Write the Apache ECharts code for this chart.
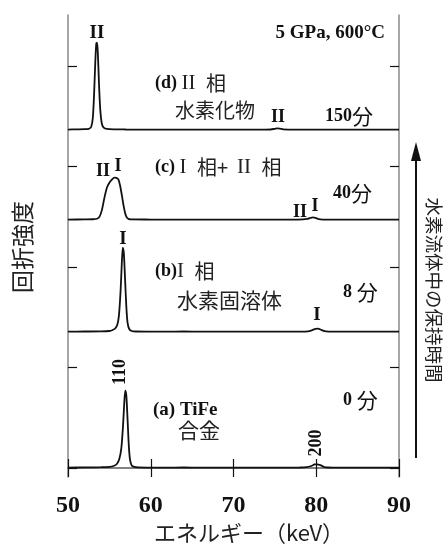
<!DOCTYPE html>
<html><head><meta charset="utf-8">
<script src="https://cdn.jsdelivr.net/npm/echarts@6/dist/echarts.min.js"></script>
<style>html,body{margin:0;padding:0;background:#fff}#c{width:448px;height:545px}</style>
</head><body><div id="c"></div>
<script>
// ---- data ----
const xTicks = [50, 60, 70, 80, 90];
const yTickValues = [0, 1, 2, 3, 4];
const panelNames = ['a', 'b', 'c', 'd'];
const panelOffsets = [0, 1.353, 2.468, 3.363];
// spectra: [energy keV, intensity above own baseline]
const spectrumA = [[50,0.004],[52,0.006],[54,0.008],[55,0.012],[55.5,0.02],[55.9,0.04],[56.2,0.09],[56.45,0.2],[56.65,0.42],[56.8,0.65],[56.92,0.77],[57.05,0.72],[57.2,0.48],[57.35,0.22],[57.5,0.08],[57.7,0.025],[58.0,0.01],[58.5,0.006],[60,0.004],[62,0.003],[64,0.005],[66,0.003],[68,0.004],[70,0.003],[72,0.003],[74,0.004],[76,0.003],[78,0.005],[78.8,0.008],[79.4,0.02],[79.8,0.035],[80.1,0.037],[80.5,0.028],[80.9,0.012],[81.4,0.005],[83,0.003],[86,0.003],[88,0.004],[90,0.003]];
const spectrumB = [[50,0.004],[52,0.005],[54,0.006],[55,0.01],[55.4,0.02],[55.7,0.035],[55.95,0.07],[56.15,0.16],[56.35,0.4],[56.5,0.68],[56.62,0.84],[56.75,0.78],[56.9,0.52],[57.05,0.25],[57.2,0.09],[57.4,0.03],[57.7,0.01],[58.2,0.005],[60,0.004],[62,0.003],[64,0.005],[66,0.004],[68,0.003],[70,0.004],[72,0.003],[74,0.004],[76,0.003],[78,0.004],[79,0.007],[79.5,0.018],[79.9,0.03],[80.2,0.033],[80.6,0.022],[81,0.008],[81.5,0.004],[84,0.003],[87,0.004],[90,0.003]];
const spectrumC = [[50,0.004],[52,0.005],[53,0.007],[53.5,0.012],[53.8,0.03],[54.1,0.1],[54.4,0.22],[54.7,0.32],[55.0,0.37],[55.3,0.4],[55.6,0.42],[55.85,0.418],[56.1,0.4],[56.3,0.34],[56.5,0.25],[56.7,0.15],[56.9,0.07],[57.1,0.025],[57.3,0.01],[57.6,0.005],[60,0.004],[63,0.003],[66,0.004],[70,0.003],[74,0.004],[77,0.003],[78.4,0.005],[78.9,0.01],[79.3,0.02],[79.6,0.025],[79.9,0.02],[80.3,0.008],[80.8,0.004],[84,0.003],[87,0.004],[90,0.003]];
const spectrumD = [[50,0.004],[51,0.006],[52,0.008],[52.5,0.012],[52.8,0.03],[53.0,0.12],[53.15,0.35],[53.3,0.68],[53.42,0.86],[53.52,0.87],[53.62,0.74],[53.75,0.45],[53.9,0.2],[54.1,0.06],[54.35,0.02],[54.7,0.01],[55.5,0.006],[57,0.005],[60,0.004],[63,0.004],[66,0.003],[70,0.004],[73,0.003],[74.5,0.005],[75,0.012],[75.3,0.016],[75.6,0.014],[76,0.006],[78,0.004],[82,0.003],[86,0.004],[90,0.003]];
const spectra = [spectrumA, spectrumB, spectrumC, spectrumD];

const SERIF = '"Liberation Serif", "DejaVu Serif", serif';
const CJK = '"Noto Sans CJK JP", "Noto Sans", sans-serif';

const chart = echarts.init(document.getElementById('c'), null, {renderer: 'canvas'});

const series = spectra.map((s, i) => ({
  name: panelNames[i],
  type: 'line',
  data: s.map(p => [p[0], p[1] + panelOffsets[i]]),
  showSymbol: false,
  smooth: 0.25,
  lineStyle: {color: '#111', width: 1.8},
  z: 3
}));

function t(text, x, y, opt) {
  return Object.assign({type: 'text', x: x, y: y, style: Object.assign({text: text, fill: '#111', verticalAlign: 'middle', align: 'center'}, opt && opt.style)}, opt && opt.el);
}
const bold = (size) => ({font: `bold ${size}px ${SERIF}`});
const cjk = (size) => ({font: `${size}px ${CJK}`});

const rich = {
  s: {fontFamily: SERIF, fontWeight: 'bold', fontSize: 18, fill: '#111'},
  r: {fontFamily: SERIF, fontSize: 21, fill: '#222'},
  j: {fontFamily: CJK, fontSize: 20, fill: '#222'},
  k: {fontFamily: CJK, fontSize: 21, fill: '#111'}
};
function rt(text, x, y) {
  return {type: 'text', x: x, y: y, style: {text: text, rich: rich, verticalAlign: 'middle', align: 'left'}};
}

const graphics = [
  t('5 GPa, 600°C', 385, 33, {style: Object.assign(bold(19), {align: 'right'})}),
  // panel d
  t('II', 97, 33, {style: bold(19)}),
  rt('{s|(d) }{r|II  }{j|相}', 155, 83),
  t('水素化物', 175, 110, {style: Object.assign(cjk(20), {align: 'left', fill: '#222'})}),
  t('II', 278, 117, {style: bold(18)}),
  rt('{s|150}{k|分}', 325, 116),
  // panel c
  t('II', 103, 171, {style: bold(18)}),
  t('I', 118, 166, {style: bold(18)}),
  rt('{s|(c) }{r|I  }{j|相+  }{r|II  }{j|相}', 155, 167),
  rt('{s|40}{k|分}', 333, 193),
  t('II', 300, 212, {style: bold(18)}),
  t('I', 315, 206, {style: bold(18)}),
  // panel b
  t('I', 123, 239, {style: bold(19)}),
  rt('{s|(b)}{r|I  }{j|相}', 155, 271),
  t('水素固溶体', 177, 300, {style: Object.assign(cjk(21), {align: 'left', fill: '#222'})}),
  rt('{s|8}{k| 分}', 343, 292),
  t('I', 317, 315, {style: bold(19)}),
  // panel a
  t('110', 120, 372, {style: bold(18), el: {rotation: Math.PI / 2}}),
  t('(a) TiFe', 153, 410, {style: Object.assign(bold(19), {align: 'left'})}),
  t('合金', 178, 430, {style: Object.assign(cjk(21), {align: 'left', fill: '#222'})}),
  rt('{s|0}{k| 分}', 343, 400),
  t('200', 316, 443, {style: bold(18), el: {rotation: Math.PI / 2}}),
  // axis titles
  t('エネルギー（keV）', 249, 533, {style: Object.assign(cjk(22), {fill: '#222'})}),
  t('回折強度', 22, 247, {style: Object.assign(cjk(23), {fill: '#222'}), el: {rotation: Math.PI / 2}}),
  t('水素流体中の保持時間', 434, 290, {style: Object.assign(cjk(18.5), {fill: '#222'}), el: {rotation: -Math.PI / 2}}),
  // arrow
  {type: 'line', shape: {x1: 416, y1: 458, x2: 416, y2: 156}, style: {stroke: '#111', lineWidth: 2}},
  {type: 'polygon', shape: {points: [[416, 142], [411, 161], [421, 161]]}, style: {fill: '#111'}}
];

const option = {
  animation: false,
  backgroundColor: '#fff',
  grid: {left: 68, right: 49, top: 15, bottom: 68, containLabel: false},
  xAxis: [
    {type: 'value', min: xTicks[0], max: xTicks[xTicks.length - 1], interval: 10, position: 'bottom',
      axisLine: {lineStyle: {color: '#333', width: 1.5}},
      axisTick: {inside: true, length: 9, lineStyle: {color: '#111', width: 1.2}},
      axisLabel: {margin: 17, color: '#111', fontFamily: SERIF, fontWeight: 'bold', fontSize: 24},
      splitLine: {show: false}},
    {type: 'value', min: xTicks[0], max: xTicks[xTicks.length - 1], interval: 10, position: 'top',
      axisLine: {lineStyle: {color: '#8a8a8a', width: 1.5}},
      axisTick: {inside: true, length: 9, lineStyle: {color: '#111', width: 1.2}},
      axisLabel: {show: false}, splitLine: {show: false}}
  ],
  yAxis: [
    {type: 'value', min: -0.0896, max: 4.507, position: 'left',
      axisLine: {show: true, lineStyle: {color: '#8a8a8a', width: 1.5}},
      axisTick: {show: true, inside: true, length: 9, customValues: yTickValues, lineStyle: {color: '#111', width: 1.2}},
      axisLabel: {show: false}, splitLine: {show: false}},
    {type: 'value', min: -0.0896, max: 4.507, position: 'right',
      axisLine: {show: true, lineStyle: {color: '#8a8a8a', width: 1.5}},
      axisTick: {show: true, inside: true, length: 9, customValues: yTickValues, lineStyle: {color: '#111', width: 1.2}},
      axisLabel: {show: false}, splitLine: {show: false}}
  ],
  series: series,
  graphic: graphics
};
chart.setOption(option);
</script></body></html>
